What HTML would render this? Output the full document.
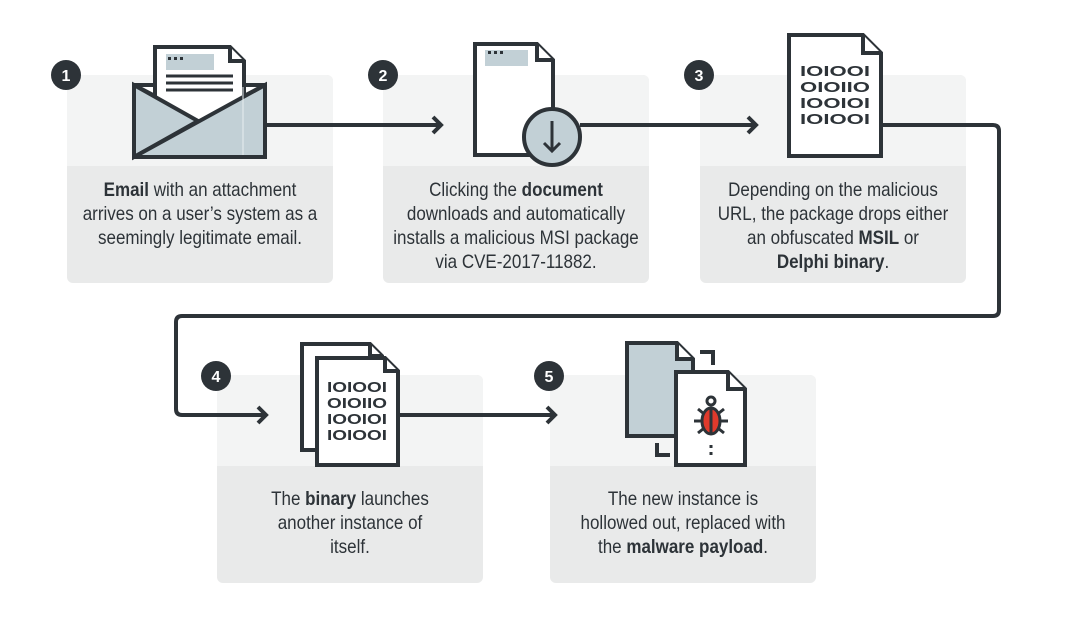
<!DOCTYPE html>
<html><head><meta charset="utf-8"><style>
html,body{margin:0;padding:0;background:#fff;}
svg{display:block}
text{font-family:"Liberation Sans",sans-serif;font-size:19px;fill:#2d3338;text-anchor:middle}
.b{font-weight:bold}
.bin{font-family:"Liberation Sans",sans-serif;font-weight:bold;font-size:15px}
.n{fill:#fff;font-family:"Liberation Sans",sans-serif;font-weight:bold;font-size:16px}
</style></head><body>
<svg width="1067" height="617" viewBox="0 0 1067 617" xmlns="http://www.w3.org/2000/svg">
<g stroke="none">
<rect x="67" y="75" width="266" height="208" rx="6" fill="#e9eaea"/><rect x="67" y="75" width="266" height="91" rx="6" fill="#f3f4f4"/><rect x="67" y="150" width="266" height="16" fill="#f3f4f4"/>
<rect x="383" y="75" width="266" height="208" rx="6" fill="#e9eaea"/><rect x="383" y="75" width="266" height="91" rx="6" fill="#f3f4f4"/><rect x="383" y="150" width="266" height="16" fill="#f3f4f4"/>
<rect x="700" y="75" width="266" height="208" rx="6" fill="#e9eaea"/><rect x="700" y="75" width="266" height="91" rx="6" fill="#f3f4f4"/><rect x="700" y="150" width="266" height="16" fill="#f3f4f4"/>
<rect x="217" y="375" width="266" height="208" rx="6" fill="#e9eaea"/><rect x="217" y="375" width="266" height="91" rx="6" fill="#f3f4f4"/><rect x="217" y="450" width="266" height="16" fill="#f3f4f4"/>
<rect x="550" y="375" width="266" height="208" rx="6" fill="#e9eaea"/><rect x="550" y="375" width="266" height="91" rx="6" fill="#f3f4f4"/><rect x="550" y="450" width="266" height="16" fill="#f3f4f4"/>
</g>
<g fill="none" stroke="#2d3338" stroke-width="4">
<path d="M265 125 H441"/><path d="M433 117 L441 125 L433 133"/>
<path d="M580 125 H756"/><path d="M748 117 L756 125 L748 133"/>
<path d="M882 125 H993 Q999 125 999 131 V310 Q999 316 993 316 H182 Q176 316 176 322 V409 Q176 415 182 415 H266"/><path d="M258 407 L266 415 L258 423"/>
<path d="M398 415 H555"/><path d="M547 407 L555 415 L547 423"/>
</g>
<g stroke="#2d3338" stroke-width="4">
<path d="M134 85 H265 V157 H134 Z" fill="#fff"/>
<path d="M155 47 H230 L244 61 V130 H155 Z" fill="#fff"/>
<path d="M230 47 V61 H244" fill="#fff"/>
<rect x="166" y="54" width="48" height="16" fill="#c2d0d6" stroke="none"/>
<rect x="168" y="57" width="3" height="3" fill="#2d3338" stroke="none"/><rect x="174" y="57" width="3" height="3" fill="#2d3338" stroke="none"/><rect x="180" y="57" width="3" height="3" fill="#2d3338" stroke="none"/>
<path d="M166 76 H233 M166 83 H233 M166 90 H233" stroke-width="3"/>
<path d="M134 85 L198 121 L134 157 Z" fill="#c2d0d6"/>
<path d="M134 157 L265 85 V157 Z" fill="#c2d0d6"/>
<path d="M134 85 L155 96 M244 96 L265 85" fill="none"/>
<path d="M243 87 V155" stroke="#e8eef0" stroke-width="1"/>
</g>
<g stroke="#2d3338" stroke-width="4">
<path d="M475 44 H537 L553 60 V155 H475 Z" fill="#fff"/>
<path d="M537 44 V60 H553" fill="#fff"/>
<rect x="485" y="50" width="43" height="16" fill="#c2d0d6" stroke="none"/>
<rect x="488" y="51" width="3" height="3" fill="#2d3338" stroke="none"/><rect x="494" y="51" width="3" height="3" fill="#2d3338" stroke="none"/><rect x="500" y="51" width="3" height="3" fill="#2d3338" stroke="none"/>
<circle cx="552" cy="137" r="28" fill="#c2d0d6"/>
<path d="M552 121 V151 M544 143 L552 151 L560 143" fill="none" stroke-width="3"/>
</g>
<g stroke="#2d3338" stroke-width="4">
<path d="M789 35 H863 L881 53 V156 H789 Z" fill="#fff"/>
<path d="M863 35 V53 H881" fill="#fff"/>
</g>
<text class="bin" x="835" y="76" textLength="70" lengthAdjust="spacingAndGlyphs">IOIOOI</text><text class="bin" x="835" y="92" textLength="70" lengthAdjust="spacingAndGlyphs">OIOIIO</text><text class="bin" x="835" y="108" textLength="70" lengthAdjust="spacingAndGlyphs">IOOIOI</text><text class="bin" x="835" y="124" textLength="70" lengthAdjust="spacingAndGlyphs">IOIOOI</text>
<g stroke="#2d3338" stroke-width="4">
<path d="M302 344 H370 L382 356 V450 H302 Z" fill="#fff"/>
<path d="M370 344 V356 H382" fill="#fff"/>
<path d="M317 358 H385 L398 371 V465 H317 Z" fill="#fff"/>
<path d="M385 358 V371 H398" fill="#fff"/>
</g>
<text class="bin" x="357" y="392" textLength="60" lengthAdjust="spacingAndGlyphs">IOIOOI</text><text class="bin" x="357" y="408" textLength="60" lengthAdjust="spacingAndGlyphs">OIOIIO</text><text class="bin" x="357" y="424" textLength="60" lengthAdjust="spacingAndGlyphs">IOOIOI</text><text class="bin" x="357" y="440" textLength="60" lengthAdjust="spacingAndGlyphs">IOIOOI</text>
<g stroke="#2d3338" stroke-width="4" fill="none">
<path d="M627 343 H677 L693 359 V436 H627 Z" fill="#c2d0d6"/>
<path d="M677 343 V359 H693" fill="#fff"/>
<path d="M700 352 H713 V365"/>
<path d="M657 443 V455 H670"/>
<path d="M676 372 H728 L745 389 V465 H676 Z" fill="#fff"/>
<path d="M728 372 V389 H745" fill="#fff"/>
<circle cx="711" cy="401" r="4" stroke-width="3"/>
<path d="M698 409 L703 413 M724 409 L719 413 M694 421 H702 M728 421 H720 M698 433 L703 429 M724 433 L719 429" stroke-width="3"/>
<path d="M711 445 V448 M711 452 V455" stroke-width="3"/>
</g>
<ellipse cx="711" cy="421" rx="9" ry="13" fill="#e03a2c" stroke="#2d3338" stroke-width="3"/>
<path d="M711 409 V434" stroke="#2d3338" stroke-width="3"/>
<g fill="#2d3338">
<circle cx="66" cy="75" r="15"/><circle cx="383" cy="75" r="15"/><circle cx="699" cy="75" r="15"/><circle cx="216" cy="376" r="15"/><circle cx="549" cy="376" r="15"/>
</g>
<text class="n" x="66" y="81">1</text><text class="n" x="383" y="81">2</text><text class="n" x="699" y="81">3</text><text class="n" x="216" y="382">4</text><text class="n" x="549" y="382">5</text>
<g transform="matrix(0.895,0,0,1,21,0)">
<text x="200" y="196"><tspan class="b">Email</tspan> with an attachment</text>
<text x="200" y="220">arrives on a user’s system as a</text>
<text x="200" y="244">seemingly legitimate email.</text>
</g>
<g transform="matrix(0.895,0,0,1,54.18,0)">
<text x="516" y="196">Clicking the <tspan class="b">document</tspan></text>
<text x="516" y="220">downloads and automatically</text>
<text x="516" y="244">installs a malicious MSI package</text>
<text x="516" y="268">via CVE-2017-11882.</text>
</g>
<g transform="matrix(0.895,0,0,1,87.47,0)">
<text x="833" y="196">Depending on the malicious</text>
<text x="833" y="220">URL, the package drops either</text>
<text x="833" y="244">an obfuscated <tspan class="b">MSIL</tspan> or</text>
<text x="833" y="268"><tspan class="b">Delphi binary</tspan>.</text>
</g>
<g transform="matrix(0.895,0,0,1,36.75,0)">
<text x="350" y="505">The <tspan class="b">binary</tspan> launches</text>
<text x="350" y="529">another instance of</text>
<text x="350" y="553">itself.</text>
</g>
<g transform="matrix(0.895,0,0,1,71.72,0)">
<text x="683" y="505">The new instance is</text>
<text x="683" y="529">hollowed out, replaced with</text>
<text x="683" y="553">the <tspan class="b">malware payload</tspan>.</text>
</g>
</svg>
</body></html>
